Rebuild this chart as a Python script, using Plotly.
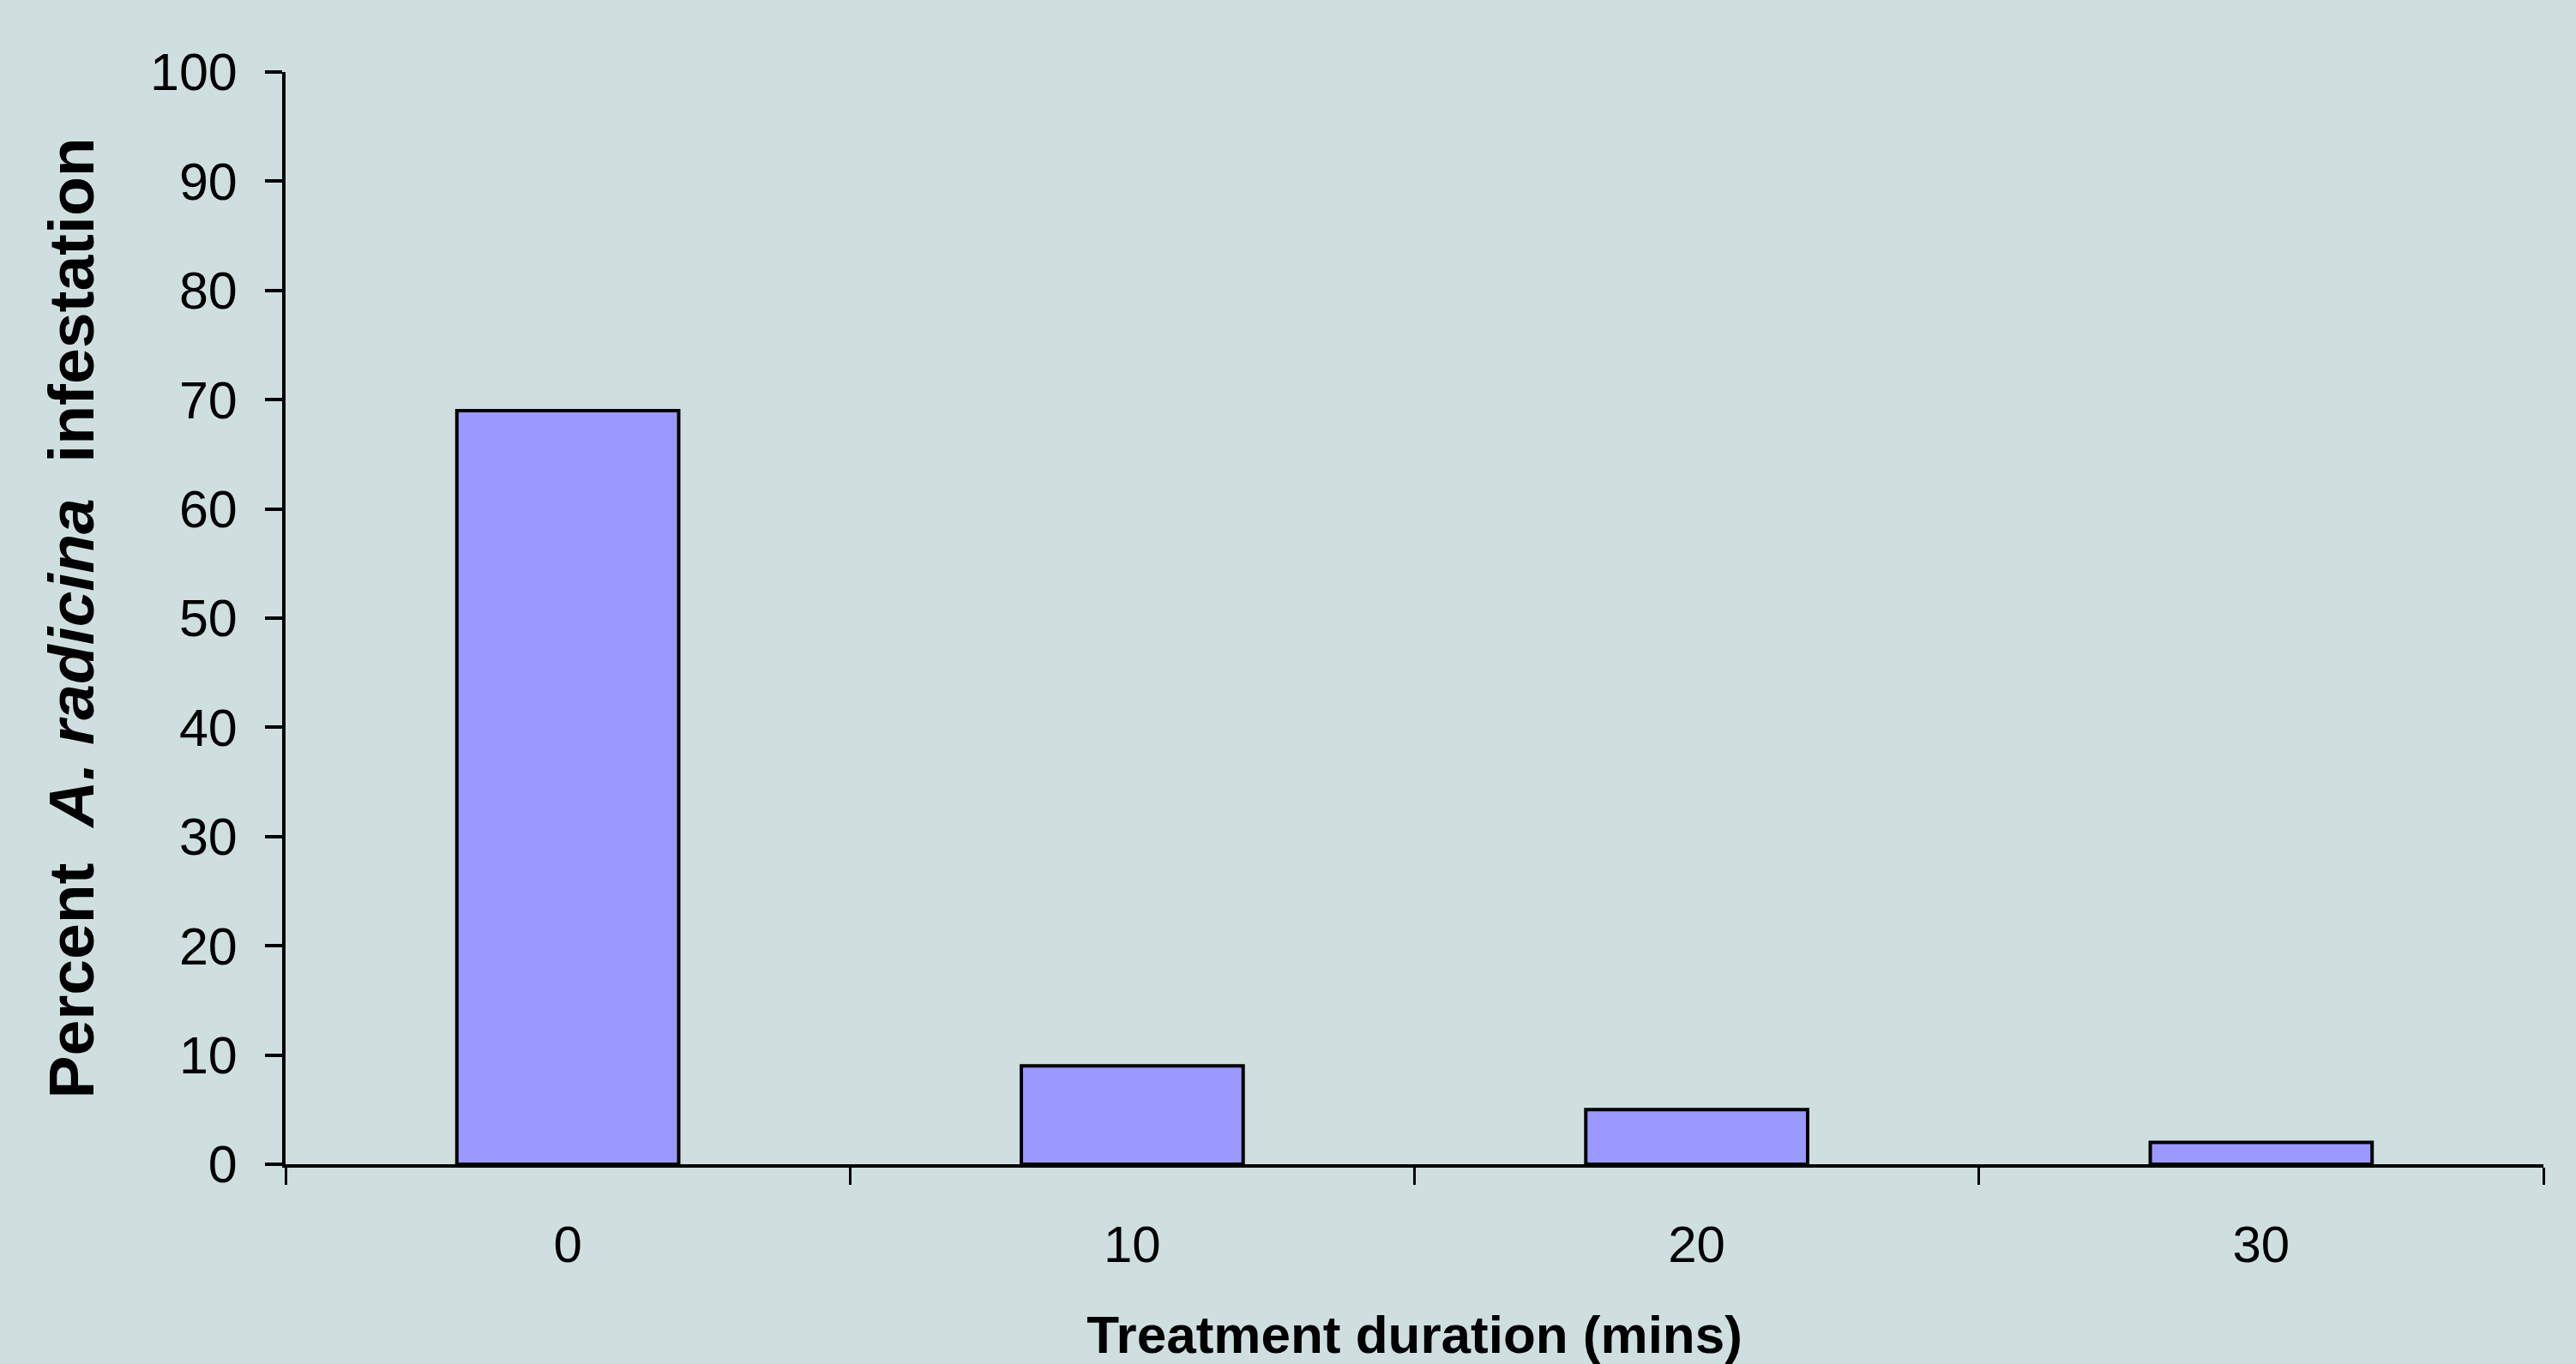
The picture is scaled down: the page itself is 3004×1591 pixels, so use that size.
import plotly.graph_objects as go

# Data
durations = ["0", "10", "20", "30"]          # treatment duration (mins)
infestation = [69, 9, 5, 2]                  # percent A. radicina infestation
y_tick_values = [0, 10, 20, 30, 40, 50, 60, 70, 80, 90, 100]

FONT = "Liberation Sans, Arial, Helvetica, sans-serif"
BG = "#cfdfdf"

fig = go.Figure(
    go.Bar(
        x=durations,
        y=infestation,
        marker=dict(color="#9999ff", line=dict(color="black", width=4)),
        showlegend=False,
    )
)

fig.update_layout(
    width=3004,
    height=1591,
    autosize=False,
    margin=dict(l=333, r=38, t=84, b=233, pad=0),
    paper_bgcolor=BG,
    plot_bgcolor=BG,
    bargap=0.607,
    font=dict(family=FONT, color="black"),
)

fig.update_xaxes(
    type="category",
    tickson="boundaries",
    ticks="outside",
    ticklen=20,
    tickwidth=3,
    tickcolor="black",
    showline=True,
    linecolor="black",
    linewidth=4,
    showgrid=False,
    zeroline=False,
    tickfont=dict(family=FONT, size=60, color="black"),
    ticklabelstandoff=38,
    title=dict(
        text="<b>Treatment duration (mins)</b>",
        font=dict(family=FONT, size=62, color="black"),
        standoff=52,
    ),
)

fig.update_yaxes(
    range=[0, 100],
    tickvals=y_tick_values,
    ticks="outside",
    ticklen=20,
    tickwidth=4,
    tickcolor="black",
    showline=True,
    linecolor="black",
    linewidth=4,
    showgrid=False,
    zeroline=False,
    tickfont=dict(family=FONT, size=61, color="black"),
    ticklabelstandoff=20,
    title=dict(
        text="<b>Percent&nbsp; <i>A. radicina</i>&nbsp; infestation</b>",
        font=dict(family=FONT, size=75, color="black"),
        standoff=42,
    ),
)

fig.write_html(
    "out.html",
    config={"displayModeBar": False},
    post_script="document.body.style.margin='0';",
)
